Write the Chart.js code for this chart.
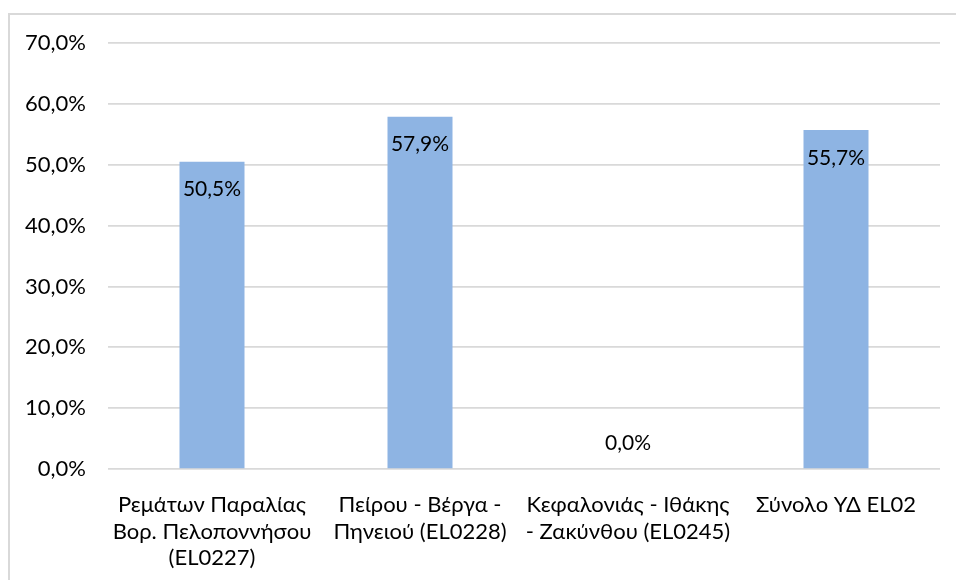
<!DOCTYPE html>
<html>
<head>
<meta charset="utf-8">
<script src="https://cdn.jsdelivr.net/npm/chart.js@4/dist/chart.umd.min.js"></script>
<style>
  html, body { margin: 0; padding: 0; background: #fff; }
  #wrap { width: 956px; height: 580px; position: relative; }
</style>
</head>
<body>
<div id="wrap"><canvas id="chart"></canvas></div>
<script>
// chart data
const categories = [
  ['Ρεμάτων Παραλίας', 'Βορ. Πελοποννήσου', '(EL0227)'],
  ['Πείρου - Βέργα -', 'Πηνειού (EL0228)'],
  ['Κεφαλονιάς - Ιθάκης', '- Ζακύνθου (EL0245)'],
  ['Σύνολο ΥΔ EL02']
];
const values = [50.5, 57.9, 0.0, 55.7];
const yMin = 0, yMax = 70, yStep = 10;

const FONT = "Lato, 'Noto Sans', sans-serif";
const fmt = v => v.toFixed(1).replace('.', ',') + '%';

// outer frame like the Excel chart area
const framePlugin = {
  id: 'frame',
  beforeDraw(chart) {
    const ctx = chart.ctx;
    ctx.save();
    ctx.strokeStyle = '#d9d9d9';
    ctx.lineWidth = 2;
    ctx.beginPath();
    ctx.moveTo(9, 580);
    ctx.lineTo(9, 14);
    ctx.lineTo(956, 14);
    ctx.stroke();
    ctx.restore();
  }
};

// data labels, inside end of the bar
const labelPlugin = {
  id: 'barLabels',
  afterDatasetsDraw(chart) {
    const ctx = chart.ctx;
    const meta = chart.getDatasetMeta(0);
    const y0 = chart.scales.y.getPixelForValue(0);
    ctx.save();
    ctx.font = '21px ' + FONT;
    ctx.fillStyle = '#000';
    ctx.textAlign = 'center';
    ctx.textBaseline = 'middle';
    meta.data.forEach((bar, i) => {
      const v = values[i];
      const y = v > 0 ? bar.y + 28 : y0 - 26;
      ctx.fillText(fmt(v), bar.x, y);
    });
    ctx.restore();
  }
};

new Chart(document.getElementById('chart'), {
  type: 'bar',
  data: {
    labels: categories,
    datasets: [{
      data: values,
      backgroundColor: '#8eb4e3',
      barPercentage: 0.3125,
      categoryPercentage: 1
    }]
  },
  options: {
    responsive: true,
    maintainAspectRatio: false,
    animation: false,
    layout: { padding: { left: 0, right: 16, top: 43, bottom: 0 } },
    plugins: { legend: { display: false }, tooltip: { enabled: false } },
    scales: {
      x: {
        grid: { display: false },
        border: { display: false },
        ticks: {
          color: '#000',
          font: { family: FONT, size: 22, lineHeight: 1.2 },
          padding: 15,
          maxRotation: 0,
          autoSkip: false
        },
        afterFit(s) { s.height = 111; }
      },
      y: {
        min: yMin,
        max: yMax,
        grid: { color: '#d9d9d9', lineWidth: 1.7, drawTicks: false },
        border: { display: false },
        ticks: {
          stepSize: yStep,
          color: '#000',
          font: { family: FONT, size: 22 },
          padding: 22,
          callback: v => fmt(v)
        },
        afterFit(s) { s.width = 108; }
      }
    }
  },
  plugins: [framePlugin, labelPlugin]
});
</script>
</body>
</html>
